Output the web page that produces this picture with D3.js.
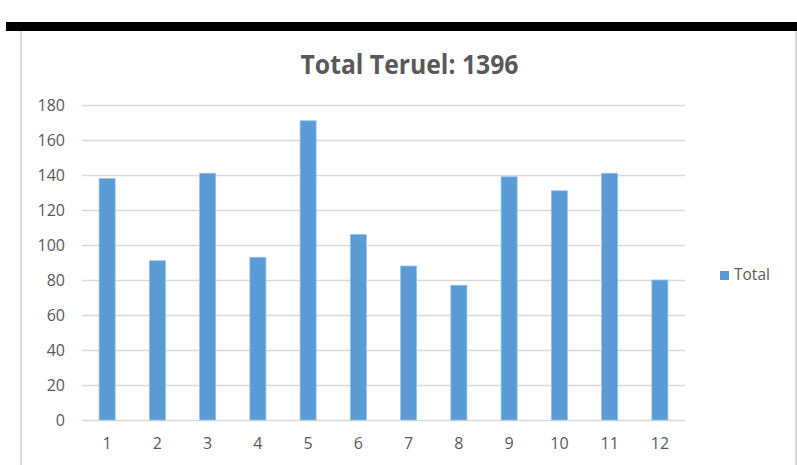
<!DOCTYPE html>
<html>
<head>
<meta charset="utf-8">
<script src="https://cdn.jsdelivr.net/npm/d3@7"></script>
<style>
  body { margin: 0; background: #fff; }
  text { font-family: "Open Sans", sans-serif; }
</style>
</head>
<body>
<div class="chart"></div>
<script>
  var titleText = "Total Teruel: 1396";
  var months = ["1","2","3","4","5","6","7","8","9","10","11","12"];
  var totals = [138, 91, 141, 93, 171, 106, 88, 77, 139, 131, 141, 80];
  var yTicks = [0, 20, 40, 60, 80, 100, 120, 140, 160, 180];
  var seriesName = "Total";

  drawChart();

  function drawChart(){
    var w = 797;
    var h = 465;
    var svg = d3.select(".chart")
    .append("svg")
    .attr("width", w)
    .attr("height", h);

    //black strip on top and frame
    svg.append("rect")
    .attr("x", 6).attr("y", 22)
    .attr("width", w - 6).attr("height", 9)
    .attr("fill", "#000");
    svg.append("line")
    .attr("x1", 21).attr("x2", 21)
    .attr("y1", 31).attr("y2", h)
    .style("stroke", "#d9d9d9")
    .style("stroke-width", 2);
    svg.append("line")
    .attr("x1", 796).attr("x2", 796)
    .attr("y1", 31).attr("y2", h)
    .style("stroke", "#d9d9d9")
    .style("stroke-width", 2);

    //scales
    var x = d3.scaleBand()
    .domain(months)
    .range([82, 685])
    .paddingInner(0.68)
    .paddingOuter(0.34);
    var y = d3.scaleLinear()
    .domain([0, 180])
    .range([420, 105]);

    //title
    svg.append("text")
    .attr("x", 409.5)
    .attr("y", 74)
    .attr("text-anchor", "middle")
    .attr("fill", "#595959")
    .style("font-size", "26px")
    .style("font-weight", "bold")
    .attr("textLength", 218)
    .attr("lengthAdjust", "spacingAndGlyphs")
    .text(titleText);

    //grid lines
    var yAxis = d3.axisLeft(y)
    .tickValues(yTicks)
    .tickSize(-(685 - 82))
    .tickPadding(17);
    var gy = svg.append("g")
    .attr("transform", "translate(82,0)")
    .call(yAxis);
    gy.select(".domain").remove();
    gy.selectAll(".tick line")
    .style("stroke", "#d9d9d9")
    .style("stroke-width", 1.6);
    gy.selectAll(".tick text")
    .attr("fill", "#595959")
    .style("font-size", "16px")
    .style("font-family", "'Open Sans', sans-serif");

    //bars
    svg.selectAll(".bar")
    .data(totals)
    .enter()
    .append("rect")
    .attr("class", "bar")
    .attr("x", function(d, i){ return x(months[i]); })
    .attr("y", function(d){ return y(d); })
    .attr("width", x.bandwidth())
    .attr("height", function(d){ return y(0) - y(d); })
    .attr("fill", "#5b9bd5")
    .attr("stroke", "#9cc2e8")
    .attr("stroke-width", 0.8);

    //x labels
    var xAxis = d3.axisBottom(x).tickSize(0).tickPadding(17);
    var gx = svg.append("g")
    .attr("transform", "translate(0,421)")
    .call(xAxis);
    gx.select(".domain").remove();
    gx.selectAll(".tick text")
    .attr("fill", "#595959")
    .style("font-size", "16px")
    .style("font-family", "'Open Sans', sans-serif");

    //legend
    svg.append("rect")
    .attr("x", 720).attr("y", 271)
    .attr("width", 9).attr("height", 9)
    .attr("fill", "#5b9bd5");
    svg.append("text")
    .attr("x", 734)
    .attr("y", 280)
    .attr("fill", "#595959")
    .style("font-size", "15.5px")
    .text(seriesName);
  }
</script>
</body>
</html>
